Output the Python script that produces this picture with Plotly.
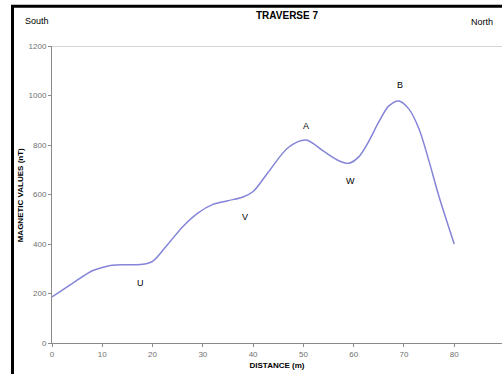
import plotly.graph_objects as go

distance = [0, 4, 8, 10, 12, 15, 18, 20, 23, 26, 29, 32, 35, 38, 40, 43, 47, 50.5, 54, 57, 59, 61, 63, 65, 67, 69, 71, 73, 75, 77, 80]
magnetic = [186, 240, 292, 305, 314, 316, 318, 330, 398, 470, 525, 560, 575, 590, 612, 690, 790, 820, 775, 737, 726, 752, 815, 893, 958, 978, 945, 865, 734, 590, 400]

label_text = ["U", "V", "A", "W", "B"]
label_x = [17.7, 38.4, 50.5, 59.4, 69.2]
label_y = [241, 511, 875, 655, 1044]

x_ticks = [0, 10, 20, 30, 40, 50, 60, 70, 80, 90]
y_ticks = [0, 200, 400, 600, 800, 1000, 1200]

FONT = "Liberation Sans, Arial, sans-serif"

L, T, B = 52, 45.7, 31.3
PW, PH = 502 - L, 374 - T - B


def px(xp):
    return (xp - L) / PW


def py(yp):
    return (374 - B - yp) / PH


fig = go.Figure()
fig.add_trace(go.Scatter(
    x=distance, y=magnetic, mode="lines",
    line=dict(color="#8484d8", width=1.5, shape="spline", smoothing=0.9),
    hoverinfo="skip", showlegend=False,
))

for t, xx, yy in zip(label_text, label_x, label_y):
    fig.add_annotation(x=xx, y=yy, text=t, showarrow=False,
                       font=dict(family=FONT, size=9, color="#000000"))

# gridline at top
fig.add_shape(type="line", xref="paper", yref="y", x0=0, x1=1, y0=1200, y1=1200,
              line=dict(color="#c8c8c8", width=1.5))
# outer black frame (left and top edges visible)
fig.add_shape(type="line", xref="paper", yref="paper",
              x0=px(12.5), x1=px(12.5), y0=py(374), y1=py(6),
              line=dict(color="#000000", width=3), layer="above")
fig.add_shape(type="line", xref="paper", yref="paper",
              x0=px(11), x1=px(502), y0=py(6), y1=py(6),
              line=dict(color="#000000", width=3), layer="above")

fig.add_annotation(xref="paper", yref="paper", x=px(23), y=py(21),
                   text="South", showarrow=False, xanchor="left", yanchor="middle",
                   font=dict(family=FONT, size=9, color="#000000"))
fig.add_annotation(xref="paper", yref="paper", x=px(495), y=py(22),
                   text="North", showarrow=False, xanchor="right", yanchor="middle",
                   font=dict(family=FONT, size=9, color="#000000"))
fig.add_annotation(xref="paper", yref="paper", x=px(287), y=py(15),
                   text="<b>TRAVERSE 7</b>", showarrow=False, xanchor="center", yanchor="middle",
                   font=dict(family=FONT, size=10, color="#000000"))
fig.add_annotation(xref="paper", yref="paper", x=px(20), y=py(195),
                   text="<b>MAGNETIC VALUES (nT)</b>", showarrow=False, textangle=-90,
                   xanchor="center", yanchor="middle",
                   font=dict(family=FONT, size=8, color="#000000"))

fig.update_layout(
    width=502, height=374,
    margin=dict(l=L, r=0, t=T, b=B),
    paper_bgcolor="white", plot_bgcolor="white",
    xaxis=dict(range=[0, 89.5], tickmode="array", tickvals=x_ticks,
               showgrid=False, zeroline=False, showline=True, linecolor="#8a8a8a", linewidth=1,
               ticks="outside", ticklen=3, tickcolor="#8a8a8a",
               tickfont=dict(family=FONT, size=8, color="#707070"),
               title=dict(text="<b>DISTANCE (m)</b>", standoff=4,
                          font=dict(family=FONT, size=8, color="#000000"))),
    yaxis=dict(range=[0, 1200], tickmode="array", tickvals=y_ticks,
               showgrid=False, zeroline=False, showline=True, linecolor="#8a8a8a", linewidth=1,
               ticks="outside", ticklen=3, tickcolor="#8a8a8a",
               tickfont=dict(family=FONT, size=8, color="#707070")),
)

fig.write_html("out.html")
